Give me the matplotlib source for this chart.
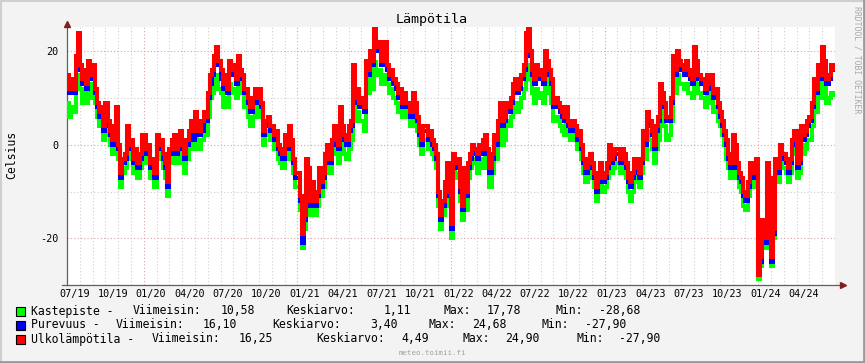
import matplotlib
matplotlib.use('Agg')
import matplotlib.pyplot as plt
import numpy as np
from matplotlib.lines import Line2D

# x axis: months since 2019-07-01, six readings per month
tick_labels = ['07/19', '10/19', '01/20', '04/20', '07/20', '10/20', '01/21', '04/21',
               '07/21', '10/21', '01/22', '04/22', '07/22', '10/22', '01/23', '04/23',
               '07/23', '10/23', '01/24', '04/24']

# Ulkolämpötila (red)
ulko = [
    15, 12, 14, 12, 19, 24,  17, 14, 16, 13, 18, 15,  17, 12, 9, 7, 8, 4,
    9, 5, 3, 1, 4, 8,  0, -6, -3, -2, 4, 0,  1, -3, -1, -4, -2, 2,
    2, -1, 0, -4, -3, -6,  2, 0, 1, -2, -4, -8,  -1, 1, 2, -1, 0, 3,
    0, -2, 1, 3, 5, 3,  7, 4, 3, 5, 7, 6,  11, 15, 16, 19, 21, 18,
    16, 13, 15, 12, 18, 16,  17, 14, 19, 16, 15, 12,  12, 10, 8, 10, 12, 10,
    12, 9, 3, 5, 6, 4,  4, 2, 3, 0, -1, -2,  2, 0, 4, 1, -3, -6,
    -6, -11, -19, -15, -3, -5,  -12, -8, -12, -10, -5, -8,  -6, -2, 0, -3, 1, 4,
    2, 0, 8, 4, 2, 1,  4, 5, 17, 10, 12, 9,  10, 8, 18, 16, 20, 18,
    25, 21, 22, 18, 18, 22,  17, 15, 16, 14, 13, 11,  12, 9, 11, 9, 9, 7,
    11, 9, 6, 3, 1, 4,  4, 2, 3, 1, 0, -2,  -10, -15, -12, -8, -4, -10,
    -17, -2, -4, -3, -9, -13,  -5, -10, -4, -2, 0, -1,  -2, 0, -1, 1, 2, -1,
    -5, -2, 2, 1, 5, 9,  5, 6, 9, 8, 10, 13,  14, 12, 13, 15, 17, 24,
    24.9, 20, 16, 14, 17, 15,  16, 14, 20, 18, 16, 14,  9, 10, 9, 8, 7, 6,
    8, 5, 4, 5, 4, 2,  3, 0, -3, -5, -3, -2,  -4, -6, -9, -6, -4, -7,
    -6, -4, 0, -3, -2, -1,  -1, -3, -1, -2, -4, -7,  -8, -6, -3, -5, -6, -3,
    3, 1, 7, 5, 3, 0,  4, 6, 13, 11, 9, 6,  6, 10, 19, 16, 20, 18,
    17, 16, 18, 16, 15, 14,  21, 18, 15, 14, 14, 12,  15, 13, 15, 11, 12, 9,
    7, 5, 3, 1, -2, -4,  2, 0, -4, -6, -7, -10,  -11, -8, -4, -6, -5, -3,
    -27.9, -24, -16, -20, -4, -7,  -24, -18, -3, -5, 0, -2,  -2, -3, -5, -3, 1, 3,
    -4, -3, 4, 2, 3, 5,  6, 9, 14, 12, 17, 15,  21, 18, 14, 15, 17, 16.25]

# Purevuus (blue)
purevuus = [
    13, 11, 12, 11, 17, 22,  16, 13, 15, 12, 17, 14,  16, 11, 8, 6, 7, 3,
    8, 4, 2, 0, 3, 7,  -1, -7, -4, -3, 3, -1,  0, -4, -2, -5, -3, 1,
    1, -2, -1, -5, -4, -7,  1, -1, 0, -3, -5, -9,  -2, 0, 1, -2, -1, 2,
    -1, -3, 0, 2, 3, 1,  5, 3, 2, 3, 5, 5,  10, 13, 15, 18, 20, 17,
    14, 12, 14, 11, 16, 15,  16, 13, 18, 14, 14, 11,  11, 9, 7, 9, 11, 9,
    11, 8, 2, 4, 5, 3,  3, 1, 2, -1, -2, -3,  1, -1, 3, 0, -4, -7,
    -7, -12, -21, -16, -4, -6,  -13, -9, -13, -11, -6, -9,  -7, -3, -1, -4, 0, 3,
    1, -1, 7, 3, 1, 0,  3, 4, 15, 9, 11, 8,  9, 7, 17, 15, 19, 17,
    23, 20, 21, 17, 17, 20,  16, 14, 15, 13, 12, 10,  11, 8, 10, 8, 8, 6,
    10, 8, 5, 2, 0, 3,  3, 1, 2, 0, -1, -3,  -11, -16, -13, -9, -5, -11,
    -18, -3, -5, -4, -10, -14,  -6, -11, -5, -3, -1, -2,  -3, -1, -2, 0, 1, -2,
    -6, -3, 1, 0, 4, 8,  4, 5, 8, 7, 9, 12,  13, 11, 12, 14, 16, 23,
    24.68, 19, 15, 13, 16, 14,  15, 13, 19, 17, 15, 13,  8, 9, 8, 7, 6, 5,
    7, 4, 3, 4, 3, 1,  2, -1, -4, -6, -4, -3,  -5, -7, -10, -7, -5, -8,
    -7, -5, -1, -4, -3, -2,  -2, -4, -2, -3, -5, -8,  -9, -7, -4, -6, -7, -4,
    2, 0, 6, 4, 2, -1,  3, 5, 12, 10, 8, 5,  5, 9, 18, 15, 19, 17,
    16, 15, 17, 15, 14, 13,  20, 17, 14, 13, 13, 11,  14, 12, 14, 10, 11, 8,
    6, 4, 2, 0, -3, -5,  1, -1, -5, -7, -8, -11,  -12, -9, -5, -7, -6, -4,
    -27.9, -25, -17, -21, -5, -8,  -25, -19, -4, -6, -1, -3,  -3, -4, -6, -4, 0, 2,
    -5, -4, 3, 1, 2, 4,  5, 8, 13, 11, 16, 14,  20, 17, 13, 14, 16, 16.10]

# Kastepiste (green)
kaste = [
    9, 6, 8, 7, 12, 15,  12, 9, 11, 9, 13, 10,  13, 9, 6, 4, 5, 1,
    6, 2, 0, -2, 1, 5,  -3, -9, -6, -5, 1, -3,  -1, -6, -4, -7, -5, -1,
    -1, -4, -3, -7, -6, -9,  -1, -3, -2, -5, -7, -11,  -4, -2, -1, -4, -3, 0,
    -4, -6, -3, -1, 1, -1,  2, 0, -1, 1, 3, 2,  6, 10, 11, 13, 15, 12,
    11, 8, 10, 8, 13, 11,  12, 10, 14, 11, 11, 8,  8, 6, 4, 6, 8, 6,
    9, 6, 0, 2, 3, 1,  1, -1, 0, -3, -4, -5,  -1, -3, 1, -2, -6, -9,
    -9, -14, -22, -18, -6, -8,  -15, -11, -15, -13, -8, -11,  -9, -5, -3, -6, -2, 1,
    -2, -4, 4, 0, -2, -3,  -1, 1, 12, 5, 7, 5,  5, 3, 13, 11, 14, 12,
    17.78, 15, 16, 13, 13, 15,  13, 11, 12, 10, 9, 7,  9, 6, 8, 6, 6, 4,
    8, 6, 3, 0, -2, 1,  1, -1, 0, -2, -3, -5,  -13, -18, -15, -11, -7, -13,
    -20, -5, -7, -6, -12, -16,  -9, -14, -7, -5, -3, -4,  -6, -4, -5, -3, -2, -5,
    -9, -6, -2, -3, 1, 4,  0, 1, 5, 4, 6, 8,  9, 7, 8, 10, 12, 17,
    17, 14, 11, 9, 12, 10,  11, 9, 15, 13, 11, 9,  5, 6, 5, 4, 3, 2,
    5, 2, 1, 2, 1, -1,  0, -3, -6, -8, -6, -5,  -7, -9, -12, -9, -7, -10,
    -9, -7, -3, -6, -5, -4,  -4, -6, -4, -5, -7, -10,  -12, -10, -6, -8, -9, -6,
    -1, -3, 3, 1, -1, -4,  -1, 1, 8, 6, 4, 1,  2, 5, 14, 11, 15, 13,
    13, 12, 13, 11, 11, 10,  16, 13, 11, 10, 10, 8,  11, 9, 11, 7, 8, 5,
    4, 2, 0, -3, -5, -7,  -1, -3, -7, -9, -10, -13,  -14, -11, -7, -9, -8, -6,
    -28.68, -26, -18, -22, -7, -10,  -26, -20, -6, -8, -3, -5,  -5, -6, -8, -6, -2, 0,
    -7, -6, 0, -2, -1, 1,  1, 4, 9, 7, 12, 10,  16, 13, 9, 10, 11, 10.58]

names = ['Kastepiste -', 'Purevuus -', 'Ulkolämpötila -']
colors = ['#00ff00', '#0000ff', '#ff0000']
viimeisin = ['10,58', '16,10', '16,25']
keskiarvo = ['1,11', '3,40', '4,49']
maxv = ['17,78', '24,68', '24,90']
minv = ['-28,68', '-27,90', '-27,90']

mono = 'DejaVu Sans Mono'
W, H = 865, 363

fig = plt.figure(figsize=(W / 100, H / 100), dpi=100, facecolor='#f3f3f3')
ax = fig.add_axes([67 / W, 1 - 285 / H, (835 - 67) / W, (285 - 27) / H])
ax.set_facecolor('white')

n = len(ulko)
x = np.arange(n) / 6.0 + 1 / 12.0
lw = 2.9
for series, c in zip([kaste, purevuus, ulko], colors):
    ax.plot(x, series, color=c, linewidth=lw, drawstyle='steps-mid',
            solid_joinstyle='miter', zorder=3)

ax.set_xlim(0, 60)
ax.set_ylim(-30, 25.2)

# grid
for m in range(1, 61):
    col = '#e0a0a0' if m % 12 == 6 else '#cfcfcf'
    ax.axvline(m, color=col, linestyle=(0, (1, 2)), linewidth=0.8, zorder=1)
for yv in [-10, 10]:
    ax.axhline(yv, color='#cfcfcf', linestyle=(0, (1, 2)), linewidth=0.8, zorder=1)
for yv in [-20, 0, 20]:
    ax.axhline(yv, color='#e0a0a0', linestyle=(0, (1, 2)), linewidth=0.8, zorder=1)

ax.set_xticks(np.arange(0, 60, 3) + 0.57)
ax.set_xticklabels(tick_labels, fontfamily=mono, fontsize=7.3)
ax.set_yticks([-20, 0, 20])
ax.set_yticklabels(['-20', '0', '20'], fontfamily=mono, fontsize=7.3)
ax.tick_params(axis='x', length=0, pad=3)
ax.tick_params(axis='y', length=0, pad=6)

for s in ['top', 'right']:
    ax.spines[s].set_visible(False)
ax.spines['left'].set_color('#606060')
ax.spines['bottom'].set_color('#606060')
ax.spines['left'].set_linewidth(0.9)
ax.spines['bottom'].set_linewidth(0.9)
ax.spines['bottom'].set_bounds(-0.4, 60.3)

# axis arrows
ax.plot([0], [25.9], marker='^', color='#802020', markersize=4, clip_on=False, zorder=5)
ax.plot([60.6], [-30], marker='>', color='#802020', markersize=4, clip_on=False, zorder=5)
ax.plot([0, 0], [25.2, 25.9], color='#606060', linewidth=0.9, clip_on=False)

# texts
fig.text(431.5 / W, 1 - 19 / H, 'Lämpötila', fontfamily=mono, fontsize=9.6,
         ha='center', va='center', color='black')
fig.text(12 / W, 1 - 155 / H, 'Celsius', fontfamily=mono, fontsize=8.3,
         rotation=90, ha='center', va='center')
fig.text(857 / W, 1 - 60 / H, 'RRDTOOL / TOBI OETIKER', fontfamily=mono, fontsize=5.9,
         rotation=-90, ha='center', va='center', color='#a8a8a8')
fig.text(432 / W, 1 - 353 / H, 'meteo.toimii.fi', fontfamily=mono, fontsize=5.3,
         ha='center', va='center', color='#a0a0a0')

# legend, field positions in pixels
row_y = [311, 325, 339]
cols = [[30.7, 133, 220.7, 286, 383.3, 443.3, 486.7, 556, 599.3],
        [30.7, 116, 203, 272.7, 370.7, 428.3, 471.7, 541.7, 585],
        [30.7, 151.7, 238.3, 316.7, 401.7, 462.7, 505, 576.7, 619.3]]
for i in range(3):
    yy = 1 - row_y[i] / H
    fig.patches.append(plt.Rectangle((15.5 / W, 1 - (row_y[i] + 4.5) / H), 9 / W, 9 / H,
                                     facecolor=colors[i], edgecolor='black', linewidth=0.8,
                                     transform=fig.transFigure, figure=fig))
    fields = [names[i], 'Viimeisin:', viimeisin[i], 'Keskiarvo:', keskiarvo[i],
              'Max:', maxv[i], 'Min:', minv[i]]
    for xp, txt in zip(cols[i], fields):
        fig.text(xp / W, yy, txt, fontfamily=mono, fontsize=8.3, ha='left', va='center')

# outer frame (3d look)
fig.lines.append(Line2D([0, 1], [1 - 0.5 / H, 1 - 0.5 / H], transform=fig.transFigure,
                        color='#cfcfcf', linewidth=1.5))
fig.lines.append(Line2D([0.5 / W, 0.5 / W], [0, 1], transform=fig.transFigure,
                        color='#cfcfcf', linewidth=1.5))
fig.lines.append(Line2D([0, 1], [1 / H, 1 / H], transform=fig.transFigure,
                        color='#9a9a9a', linewidth=2))
fig.lines.append(Line2D([1 - 1 / W, 1 - 1 / W], [0, 1], transform=fig.transFigure,
                        color='#9a9a9a', linewidth=2))

fig.savefig('out.png', dpi=100, facecolor=fig.get_facecolor())
